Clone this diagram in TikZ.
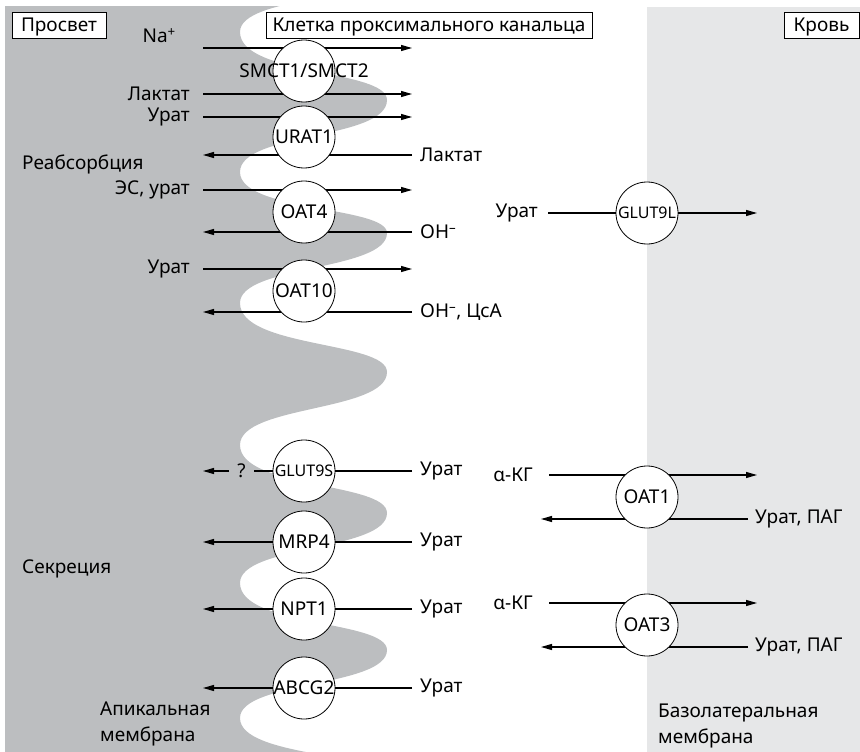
\documentclass[tikz,border=0pt]{standalone}
\usepackage{fontspec}
\setmainfont{Noto Sans}
\usetikzlibrary{arrows.meta}
\definecolor{lumengray}{HTML}{BCBEC0}
\definecolor{bloodgray}{HTML}{E6E7E8}
\tikzset{
  every node/.style={font=\fontsize{19}{26}\selectfont,inner sep=0pt},
  carrier/.style={circle,draw,fill=white,line width=0.8pt,minimum size=62pt},
  flow/.style={line width=1.1pt,-{Triangle[length=11pt,width=6pt]}},
  plain/.style={line width=1.1pt},
  tag/.style={draw,fill=white,line width=0.8pt,minimum height=26pt,
    text height=13.5pt,text depth=0pt}
}
\begin{document}
\begin{tikzpicture}[x=1pt,y=-1pt]
  \useasboundingbox (0,0) rectangle (860,752);
  \fill[bloodgray] (647,7) rectangle (860,752);
  \begin{scope}
    \clip (5,7) rectangle (430,752);
    \fill[lumengray] (0,-35) -- (387,-35)
      .. controls (387,2) and (240,-5) .. (240,32)
      .. controls (240,76) and (387,69) .. (387,100)
      .. controls (387,140) and (240,132) .. (240,172)
      .. controls (240,212) and (387,206) .. (387,233)
      .. controls (387,271) and (240,265) .. (240,303)
      .. controls (240,348) and (387,341) .. (387,372)
      .. controls (387,412) and (240,405) .. (240,445)
      .. controls (240,489) and (387,482) .. (387,513)
      .. controls (387,551) and (240,545) .. (240,583)
      .. controls (240,627) and (387,620) .. (387,650)
      .. controls (387,687) and (240,681) .. (240,718)
      .. controls (240,758) and (387,752) .. (387,780)
      -- (0,780) -- cycle;
  \end{scope}

  \node[anchor=east] (na) at (176,36) {Na\textsuperscript{+}};
  \coordinate (na1) at (203,48);
  \coordinate (na2) at (412,48);
  \draw[flow] (na1) -- (na2);
  \foreach \i/\y/\t in {la/94/Лактат,ur/117/Урат,es/190/{ЭС, урат},uo/269/Урат}{
    \node[anchor=east] (\i) at (190,\y) {\t};
    \coordinate (\i1) at (203,\y);
    \coordinate (\i2) at (412,\y);
    \draw[flow] (\i1) -- (\i2);
  }
  \foreach \i/\y/\t in {lb/155/Лактат,oh/232/OH\textsuperscript{–},
      oc/312/{OH\textsuperscript{–}, ЦсА},mu/542/Урат,nu/609/Урат,au/688/Урат}{
    \node[anchor=west] (\i) at (420,\y) {\t};
    \coordinate (\i1) at (412,\y);
    \coordinate (\i2) at (203,\y);
    \draw[flow] (\i1) -- (\i2);
  }
  \node[anchor=west] (gu) at (420,471) {Урат};
  \coordinate (gu1) at (412,471);
  \node[inner xsep=8pt] (q) at (241.5,471) {?};
  \coordinate (gu2) at (203,471);
  \draw[plain] (gu1) -- (q);
  \draw[flow] (q) -- (gu2);

  \foreach \i/\y/\t in {smct/71/{SMCT1/SMCT2},urat/137/URAT1,oatf/212/OAT4,
      oatt/291/OAT10,mrp/542/MRP4,npt/609/NPT1,abcg/688/ABCG2}
    \node[carrier] (\i) at (304,\y) {\makebox[0pt]{\t}};
  \node[carrier,font=\fontsize{16}{20}\selectfont] (glut) at (304,471)
    {\makebox[0pt]{GLUT9S}};

  \node[anchor=east] (gl) at (538,213) {Урат};
  \coordinate (gl1) at (548,213);
  \coordinate (gl2) at (757,213);
  \draw[flow] (gl1) -- (gl2);
  \node[carrier,font=\fontsize{16}{20}\selectfont] (glutl) at (647,213)
    {\makebox[0pt]{GLUT9L}};
  \foreach \i/\y in {1/497,3/625}{
    \node[anchor=east] (kg\i) at (533,\y-22) {α-КГ};
    \coordinate (ka\i) at (549,\y-22);
    \coordinate (kb\i) at (757,\y-22);
    \draw[flow] (ka\i) -- (kb\i);
    \node[anchor=west] (up\i) at (755,\y+22) {Урат, ПАГ};
    \coordinate (ua\i) at (748,\y+22);
    \coordinate (ub\i) at (541,\y+22);
    \draw[flow] (ua\i) -- (ub\i);
    \node[carrier] (oat\i) at (647,\y) {OAT\i};
  }

  \node[anchor=base west] (reab) at (22,169) {Реабсорбция};
  \node[anchor=west] (secr) at (22,569) {Секреция};
  \node[anchor=base west,align=left] (apic) at (100,741) {Апикальная\\мембрана};
  \node[anchor=base west,align=left] (baso) at (658,743) {Базолатеральная\\мембрана};

  \node[tag,minimum width=94pt] (lumen) at (59,25) {Просвет};
  \node[tag,minimum width=326pt] (cell) at (429,25) {Клетка проксимального канальца};
  \node[tag,minimum width=75pt] (blood) at (821.5,25) {Кровь};
\end{tikzpicture}
\end{document}
